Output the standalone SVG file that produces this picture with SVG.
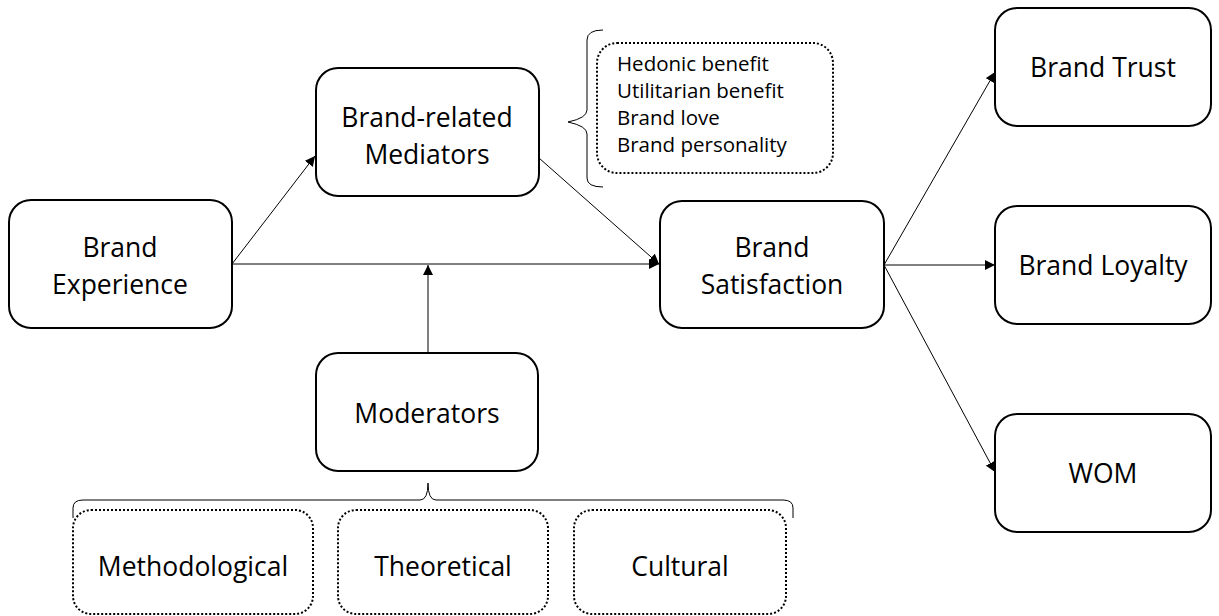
<svg xmlns="http://www.w3.org/2000/svg" width="1219" height="616" viewBox="0 0 1219 616">
<defs>
<marker id="arr" viewBox="0 0 10 10" refX="10" refY="5" markerWidth="10" markerHeight="10" markerUnits="userSpaceOnUse" orient="auto">
<path d="M0,0 L10,5 L0,10 z" fill="#000"/>
</marker>
<style>
.box{fill:#fff;stroke:#000;stroke-width:2}
.dot{fill:#fff;stroke:#000;stroke-width:2;stroke-dasharray:2 2}
.t{font-family:"Open Sans","Liberation Sans",sans-serif;font-size:26.5px;fill:#000;text-anchor:middle}
.s{font-family:"Open Sans","Liberation Sans",sans-serif;font-size:20.5px;fill:#000}
.ln{stroke:#000;stroke-width:1;fill:none}
.br{stroke:#000;stroke-width:1;fill:none}
</style>
</defs>
<rect width="1219" height="616" fill="#fff"/>
<g id="connectors">
<line class="ln" x1="232" y1="264" x2="315" y2="156" marker-end="url(#arr)"/>
<line class="ln" x1="539" y1="158" x2="659" y2="264" marker-end="url(#arr)"/>
<line class="ln" x1="232" y1="264" x2="659" y2="264" marker-end="url(#arr)"/>
<line class="ln" x1="428" y1="353" x2="428" y2="265" marker-end="url(#arr)"/>
<line class="ln" x1="884" y1="265" x2="995" y2="72" marker-end="url(#arr)"/>
<line class="ln" x1="884" y1="265" x2="995" y2="265" marker-end="url(#arr)"/>
<line class="ln" x1="884" y1="265" x2="995" y2="472" marker-end="url(#arr)"/>
</g>
<g id="brand-experience">
<rect class="box" x="9" y="200" width="223" height="128" rx="22"/>
<text class="t" x="120" y="257">Brand</text>
<text class="t" x="120" y="294">Experience</text>
</g>
<g id="mediators">
<rect class="box" x="316" y="68" width="223" height="128" rx="22"/>
<text class="t" x="427" y="127">Brand-related</text>
<text class="t" x="427" y="164">Mediators</text>
</g>
<g id="mediator-list">
<path class="br" d="M603,30 Q587,30 587,40 L587,110 Q587,118 568,122 Q587,126 587,134 L587,178 Q587,187 603,187"/>
<rect class="dot" x="597" y="43" width="236" height="130" rx="20"/>
<text class="s" x="617" y="71">Hedonic benefit</text>
<text class="s" x="617" y="98">Utilitarian benefit</text>
<text class="s" x="617" y="125">Brand love</text>
<text class="s" x="617" y="152">Brand personality</text>
</g>
<g id="satisfaction">
<rect class="box" x="660" y="201" width="224" height="127" rx="22"/>
<text class="t" x="772" y="257">Brand</text>
<text class="t" x="772" y="294">Satisfaction</text>
</g>
<g id="moderators">
<rect class="box" x="316" y="353" width="222" height="118" rx="22"/>
<text class="t" x="427" y="423">Moderators</text>
</g>
<g id="moderator-types">
<path class="br" d="M73,518 L73,508 Q73,500 83,500 L420,500 Q428,500 428,483 Q428,500 436,500 L783,500 Q793,500 793,508 L793,518"/>
<rect class="dot" x="73" y="510" width="240" height="104" rx="18"/>
<text class="t" x="193" y="576">Methodological</text>
<rect class="dot" x="338" y="510" width="210" height="104" rx="18"/>
<text class="t" x="443" y="576">Theoretical</text>
<rect class="dot" x="574" y="510" width="212" height="104" rx="18"/>
<text class="t" x="680" y="576">Cultural</text>
</g>
<g id="brand-trust">
<rect class="box" x="995" y="8" width="216" height="118" rx="22"/>
<text class="t" x="1103" y="77">Brand Trust</text>
</g>
<g id="brand-loyalty">
<rect class="box" x="995" y="206" width="216" height="118" rx="22"/>
<text class="t" x="1103" y="275">Brand Loyalty</text>
</g>
<g id="wom">
<rect class="box" x="995" y="414" width="216" height="118" rx="22"/>
<text class="t" x="1103" y="483">WOM</text>
</g>
</svg>
